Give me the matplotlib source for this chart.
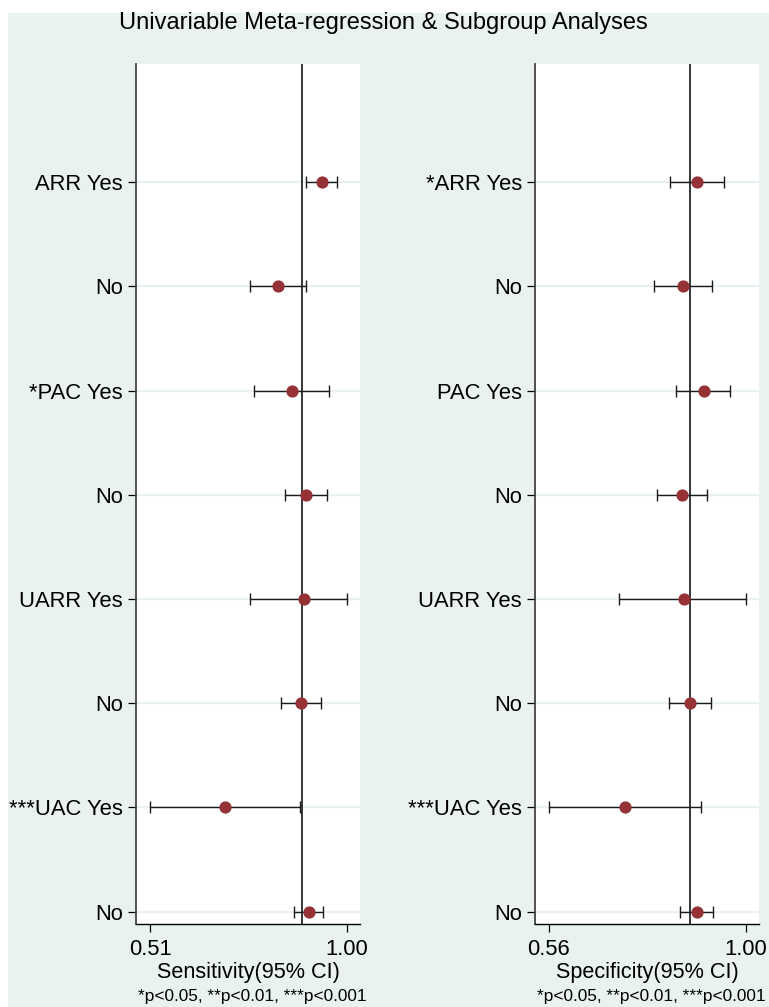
import numpy as np
import matplotlib as mpl
mpl.use("Agg")
import matplotlib.pyplot as plt
from matplotlib.patches import Rectangle

plt.rcParams['font.family'] = ['Liberation Sans', 'DejaVu Sans']

# subgroup rows, top to bottom
sens_labels = ['ARR Yes', 'No', '*PAC Yes', 'No', 'UARR Yes', 'No', '***UAC Yes', 'No']
spec_labels = ['*ARR Yes', 'No', 'PAC Yes', 'No', 'UARR Yes', 'No', '***UAC Yes', 'No']

# sensitivity estimates with 95% CI
sens = [0.938, 0.830, 0.863, 0.898, 0.894, 0.886, 0.697, 0.906]
sens_lo = [0.899, 0.759, 0.769, 0.846, 0.759, 0.837, 0.510, 0.869]
sens_hi = [0.977, 0.899, 0.957, 0.950, 1.000, 0.937, 0.884, 0.942]
sens_pooled = 0.888

# specificity estimates with 95% CI
spec = [0.891, 0.860, 0.906, 0.858, 0.861, 0.875, 0.729, 0.891]
spec_lo = [0.831, 0.796, 0.845, 0.801, 0.716, 0.829, 0.560, 0.853]
spec_hi = [0.951, 0.924, 0.966, 0.914, 1.000, 0.923, 0.900, 0.928]
spec_pooled = 0.875

bg = '#e9f1f1'
dot = '#943236'
footnote = '*p<0.05, **p<0.01, ***p<0.001'

fig = plt.figure(figsize=(7.69, 10.07), dpi=100)
fig.patch.set_facecolor('white')
fig.add_artist(Rectangle((8 / 769, 0), 1 - 8 / 769, 1 - 13 / 1007,
                         transform=fig.transFigure, facecolor=bg,
                         edgecolor='none', zorder=-10))

fig.text(0.498, 1 - 23 / 1007, 'Univariable Meta-regression & Subgroup Analyses',
         ha='center', va='center', fontsize=17)


def panel(rect, est, lo, hi, labels, pooled, xticks, xlim, xlabel):
    ax = fig.add_axes(rect)
    ax.set_facecolor('white')
    y = np.arange(len(est), 0, -1)
    est = np.array(est)
    err = [est - np.array(lo), np.array(hi) - est]
    for yy in y:
        ax.axhline(yy, color=bg, lw=1.6, zorder=1)
    ax.axvline(pooled, color='black', lw=1.1, zorder=2)
    ax.errorbar(est, y, xerr=err, fmt='o', color=dot, ms=7.8,
                ecolor='#1a1a1a', elinewidth=1.0, capsize=4.5, capthick=1.0,
                zorder=3)
    ax.set_ylim(0.882, 9.135)
    ax.set_xlim(*xlim)
    ax.set_yticks(y)
    ax.set_yticklabels(labels)
    ax.set_xticks(xticks)
    ax.set_xticklabels(['%.2f' % t for t in xticks])
    ax.tick_params(axis='both', labelsize=15.8, length=5.5, width=0.9, colors='black')
    ax.tick_params(axis='y', pad=4)
    ax.tick_params(axis='x', pad=5)
    for s in ['top', 'right']:
        ax.spines[s].set_visible(False)
    ax.spines['left'].set_color('#444444')
    ax.spines['left'].set_linewidth(1.3)
    ax.spines['bottom'].set_color('black')
    ax.spines['bottom'].set_linewidth(1.0)
    ax.set_xlabel(xlabel, fontsize=15.6, labelpad=2)
    ax.text(1 + 7 / 224, -0.084, footnote, transform=ax.transAxes,
            ha='right', va='center', fontsize=12.4)
    return ax


bottom = 1 - 924 / 1007
height = 860 / 1007
panel([136 / 769, bottom, 224 / 769, height], sens, sens_lo, sens_hi, sens_labels,
      sens_pooled, [0.51, 1.00], (0.4751, 1.0332), 'Sensitivity(95% CI)')
panel([535 / 769, bottom, 224 / 769, height], spec, spec_lo, spec_hi, spec_labels,
      spec_pooled, [0.56, 1.00], (0.5287, 1.0298), 'Specificity(95% CI)')

fig.savefig('out.png', dpi=100, facecolor=fig.get_facecolor())
